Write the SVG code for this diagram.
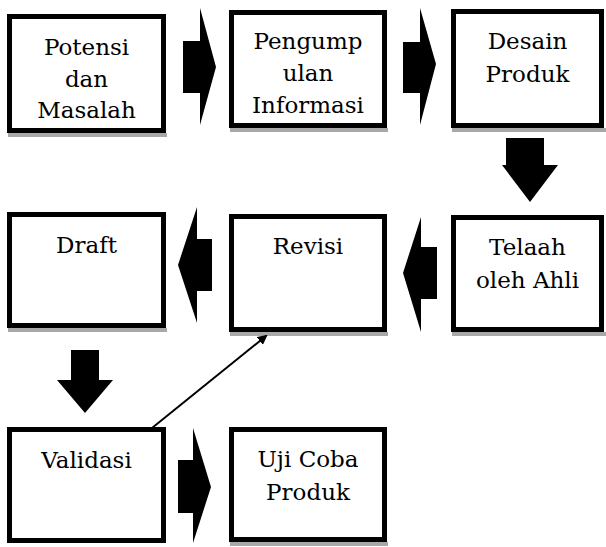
<svg xmlns="http://www.w3.org/2000/svg" width="606" height="547" viewBox="0 0 606 547">
<style>
.box{fill:#ffffff;stroke:#000000;stroke-width:5}
.shadow{fill:#a8a8a8}
.lbl{font-family:"DejaVu Serif",serif;font-size:23px;fill:#000000;text-anchor:middle}
.blk{fill:#000000;stroke:none}
.conn{stroke:#000000;stroke-width:2;fill:none}
</style>
<defs>
<marker id="ah" markerWidth="10" markerHeight="10" refX="8" refY="5" orient="auto" markerUnits="userSpaceOnUse" viewBox="0 0 10 10">
<path d="M0,0 L10,5 L0,10 z" fill="#000000"/>
</marker>
</defs>
<rect width="606" height="547" fill="#ffffff"/>
<g id="potensi">
<rect class="shadow" x="8" y="133" width="159" height="4"/>
<rect class="box" x="9.5" y="16.5" width="154" height="114"/>
<text class="lbl" x="86.5" y="55">Potensi</text>
<text class="lbl" x="86.5" y="87">dan</text>
<text class="lbl" x="86.5" y="118">Masalah</text>
</g>

<g id="pengumpulan">
<rect class="shadow" x="230" y="128" width="158" height="4"/>
<rect class="box" x="231.5" y="12.5" width="153" height="113"/>
<text class="lbl" x="308" y="49">Pengump</text>
<text class="lbl" x="308" y="81">ulan</text>
<text class="lbl" x="308" y="113">Informasi</text>
</g>

<g id="desain">
<rect class="shadow" x="452" y="128" width="154" height="4"/>
<rect class="box" x="453.5" y="11.5" width="148" height="114"/>
<text class="lbl" x="527.5" y="49">Desain</text>
<text class="lbl" x="527.5" y="82">Produk</text>
</g>

<g id="telaah">
<rect class="shadow" x="452" y="332" width="154" height="4"/>
<rect class="box" x="453.5" y="217.5" width="148" height="112"/>
<text class="lbl" x="527.5" y="255">Telaah</text>
<text class="lbl" x="527.5" y="288">oleh Ahli</text>
</g>

<g id="revisi">
<rect class="shadow" x="230" y="332" width="158" height="4"/>
<rect class="box" x="231.5" y="216.5" width="153" height="113"/>
<text class="lbl" x="308" y="254">Revisi</text>
</g>

<g id="draft">
<rect class="shadow" x="8" y="328" width="159" height="4"/>
<rect class="box" x="9.5" y="214.5" width="154" height="111"/>
<text class="lbl" x="86.5" y="253">Draft</text>
</g>

<g id="validasi">
<rect class="box" x="9.5" y="429.5" width="154" height="111"/>
<text class="lbl" x="86.5" y="468">Validasi</text>
</g>

<g id="ujicoba">
<rect class="shadow" x="230" y="542" width="158" height="4"/>
<rect class="box" x="231.5" y="429.5" width="153" height="110"/>
<text class="lbl" x="308" y="467">Uji Coba</text>
<text class="lbl" x="308" y="500">Produk</text>
</g>

<g id="connectors">
<polygon class="blk" points="183,41 200,41 200,8 216,67 200,125 200,93 183,93"/>
<polygon class="blk" points="403,42 420,42 420,8 436,64 420,125 420,93 403,93"/>
<polygon class="blk" points="506,138 544,138 544,165 558,165 530,202 502,165 506,165"/>
<polygon class="blk" points="437,247 421,247 421,217 403,273 421,332 421,299 437,299"/>
<polygon class="blk" points="212,239 197,239 197,207 178,265 197,323 197,291 212,291"/>
<polygon class="blk" points="71,350 99,350 99,380 113,380 85,413 57,380 71,380"/>
<polygon class="blk" points="178,460 193,460 193,428 211,487 193,543 193,513 178,513"/>
<line class="conn" x1="152" y1="428" x2="266" y2="336" marker-end="url(#ah)"/>
</g>
</svg>
